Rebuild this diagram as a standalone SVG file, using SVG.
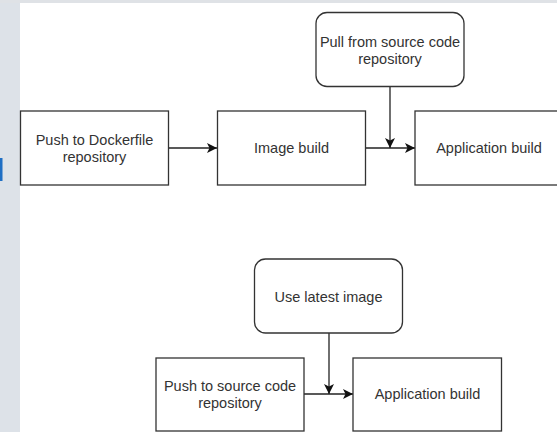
<svg xmlns="http://www.w3.org/2000/svg" width="557" height="432" viewBox="0 0 557 432">
<defs>
<style>
.box{fill:#ffffff;stroke:#333333;stroke-width:1.3}
.t{font-family:"Liberation Sans",Arial,sans-serif;font-size:14.5px;fill:#333333;text-anchor:middle}
.c{fill:none;stroke:#222222;stroke-width:1.3}
</style>
<marker id="arr" viewBox="0 0 10 10" refX="10" refY="5" markerWidth="10" markerHeight="10" markerUnits="userSpaceOnUse" orient="auto">
<path d="M0,0 L10,5 L0,10 L2.5,5 Z" fill="#111111"/>
</marker>
</defs>
<rect x="0" y="0" width="557" height="432" fill="#ffffff"/>
<rect x="0" y="0" width="20" height="432" fill="#dde2e8"/>
<rect x="0" y="0" width="557" height="3" fill="#dfe2e6"/>
<rect x="0" y="158" width="2.5" height="23" fill="#1f6fc4"/>

<g id="connectors">
<line class="c" x1="168" y1="148" x2="217" y2="148" marker-end="url(#arr)"/>
<line class="c" x1="366" y1="148" x2="415" y2="148" marker-end="url(#arr)"/>
<line class="c" x1="390" y1="87" x2="390" y2="148" marker-end="url(#arr)"/>
<line class="c" x1="304" y1="394" x2="353" y2="394" marker-end="url(#arr)"/>
<line class="c" x1="329" y1="333" x2="329" y2="394" marker-end="url(#arr)"/>
</g>

<g id="push-dockerfile">
<rect class="box" x="20.5" y="111" width="148" height="74"/>
<text class="t" x="94.5" y="145">Push to Dockerfile</text>
<text class="t" x="94.5" y="162">repository</text>
</g>
<g id="image-build">
<rect class="box" x="217.5" y="111" width="148" height="74"/>
<text class="t" x="291.5" y="153">Image build</text>
</g>
<g id="app-build-1">
<rect class="box" x="415" y="111" width="148" height="74"/>
<text class="t" x="489" y="153">Application build</text>
</g>
<g id="pull-source">
<rect class="box" x="316" y="12.5" width="148" height="74" rx="11" ry="11"/>
<text class="t" x="390" y="47">Pull from source code</text>
<text class="t" x="390" y="64">repository</text>
</g>
<g id="use-latest">
<rect class="box" x="254.5" y="259" width="148" height="74" rx="11" ry="11"/>
<text class="t" x="328.5" y="302">Use latest image</text>
</g>
<g id="push-source">
<rect class="box" x="156" y="358" width="148" height="73"/>
<text class="t" x="230" y="391">Push to source code</text>
<text class="t" x="230" y="408">repository</text>
</g>
<g id="app-build-2">
<rect class="box" x="353" y="358" width="148.5" height="73"/>
<text class="t" x="427.5" y="399">Application build</text>
</g>
</svg>
